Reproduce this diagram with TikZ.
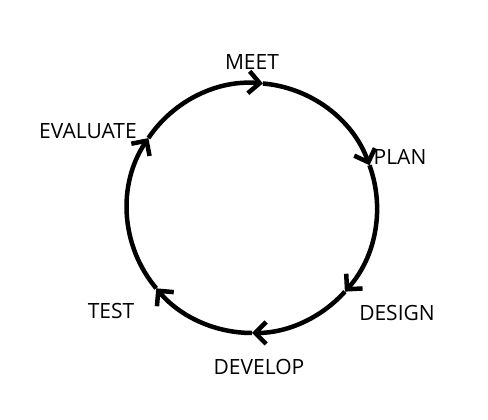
\documentclass[tikz,border=0pt]{standalone}
\usepackage{fontspec}
\setmainfont{Open Sans}
\usepackage{tikz}
\usetikzlibrary{arrows.meta,calc}

\tikzset{
  stage/.style={font=\fontsize{21}{24}\selectfont, inner sep=0pt},
  cycle/.style={line width=4.5pt, -{Straight Barb[length=11pt,width=22pt]}}
}

\begin{document}
\begin{tikzpicture}[x=1pt, y=1pt]
\useasboundingbox (0,0) rectangle (488,420);
\coordinate (centre) at (252,212);
\node[stage] (meet) at (252,358) {MEET};
\node[stage] (plan) at (400,263) {PLAN};
\node[stage] (design) at (397,107) {DESIGN};
\node[stage] (develop) at (259,53) {DEVELOP};
\node[stage] (test) at (111,109) {TEST};
\node[stage] (evaluate) at (88,289) {EVALUATE};

\coordinate (pEval) at ($(centre)+(146:125)$);
\coordinate (pMeet) at ($(centre)+(85:125)$);
\coordinate (pPlan) at ($(centre)+(20:125)$);
\coordinate (pDesign) at ($(centre)+(-42:125)$);
\coordinate (pDevelop) at ($(centre)+(-90:125)$);
\coordinate (pTest) at ($(centre)+(-140:125)$);

% the cycle, clockwise
\draw[cycle] (pEval) arc[start angle=146, end angle=85, radius=125];
\draw[cycle] (pMeet) arc[start angle=85, end angle=20, radius=125];
\draw[cycle] (pPlan) arc[start angle=20, end angle=-42, radius=125];
\draw[cycle] (pDesign) arc[start angle=-42, end angle=-90, radius=125];
\draw[cycle] (pDevelop) arc[start angle=-90, end angle=-140, radius=125];
\draw[cycle] (pTest) arc[start angle=-140, end angle=-214, radius=125];
\end{tikzpicture}
\end{document}
